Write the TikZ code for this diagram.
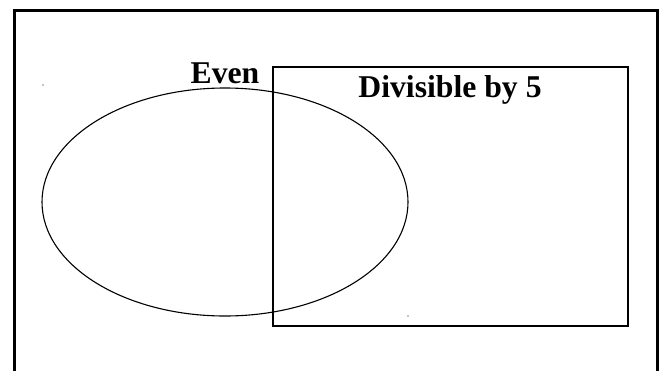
\documentclass[tikz,border=0pt]{standalone}
\usepackage{fontspec}
\setmainfont{Liberation Serif}
\begin{document}
\begin{tikzpicture}[x=1pt,y=-1pt,
  lbl/.style={font=\fontsize{31.7}{36}\selectfont\bfseries, anchor=base, inner sep=0pt},
  thin/.style={line width=1.1pt},
  dotm/.style={fill=black, inner sep=0pt, minimum size=1.4pt, circle}]
\useasboundingbox (0,0) rectangle (664,370);
\draw[line width=3pt] (14,372) -- (14,10) -- (657,10) -- (657,372);
\coordinate (ell) at (225,202);
\draw[thin] (ell) ellipse [x radius=183, y radius=114];
\node[draw, thin, inner sep=0pt, minimum width=355pt, minimum height=259pt] (rect) at (450.5,196.5) {};
\node[lbl] (even) at (225,83) {Even};
\node[lbl] (div) at (450,97) {Divisible by 5};
\node[dotm] (d1) at (43,85) {};
\node[dotm] (d2) at (408,316) {};
\end{tikzpicture}
\end{document}
